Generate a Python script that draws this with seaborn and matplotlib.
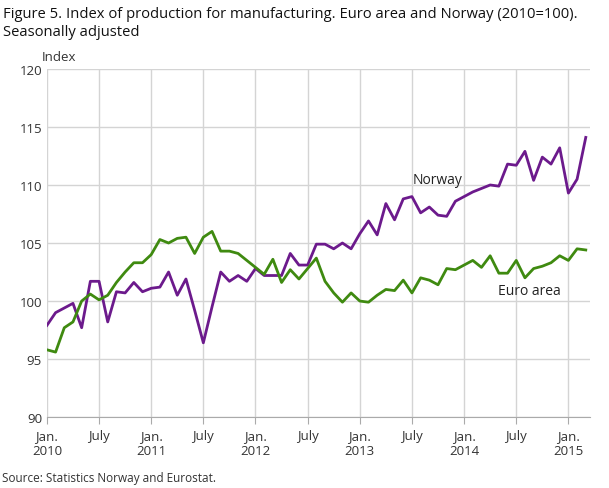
import pandas as pd
import numpy as np
import matplotlib
matplotlib.use("Agg")
import matplotlib.pyplot as plt
import seaborn as sns

# Jan 2010 .. Mar 2015, monthly
norway = [97.9, 99.0, 99.4, 99.8, 97.7, 101.7, 101.7, 98.2, 100.8, 100.7, 101.6, 100.8,
          101.1, 101.2, 102.5, 100.5, 101.9, 99.2, 96.4, 99.5, 102.5, 101.7, 102.2, 101.7,
          102.8, 102.2, 102.2, 102.2, 104.1, 103.1, 103.1, 104.9, 104.9, 104.5, 105.0, 104.5,
          105.8, 106.9, 105.7, 108.4, 107.0, 108.8, 109.0, 107.6, 108.1, 107.4, 107.3, 108.6,
          109.0, 109.4, 109.7, 110.0, 109.9, 111.8, 111.7, 112.9, 110.4, 112.4, 111.8, 113.2,
          109.3, 110.5, 114.1]
euro = [95.8, 95.6, 97.7, 98.2, 100.0, 100.6, 100.1, 100.5, 101.6, 102.5, 103.3, 103.3,
        104.0, 105.3, 105.0, 105.4, 105.5, 104.1, 105.5, 106.0, 104.3, 104.3, 104.1, 103.5,
        102.9, 102.3, 103.6, 101.6, 102.7, 101.9, 102.8, 103.7, 101.7, 100.7, 99.9, 100.7,
        100.0, 99.9, 100.5, 101.0, 100.9, 101.8, 100.7, 102.0, 101.8, 101.4, 102.8, 102.7,
        103.1, 103.5, 102.9, 103.9, 102.4, 102.4, 103.5, 102.0, 102.8, 103.0, 103.3, 103.9,
        103.5, 104.5, 104.4]
tick_labels = ["Jan.\n2010", "July", "Jan.\n2011", "July", "Jan.\n2012", "July",
               "Jan.\n2013", "July", "Jan.\n2014", "July", "Jan.\n2015"]

months = np.arange(len(norway))
df = pd.DataFrame({"month": np.concatenate([months, months]),
                   "value": norway + euro,
                   "series": ["Norway"] * len(norway) + ["Euro area"] * len(euro)})

plt.rcParams["font.family"] = "Open Sans"
fig = plt.figure(figsize=(6.09, 4.89), dpi=100)
ax = fig.add_axes([0.077, 0.145, 0.892, 0.712])
sns.lineplot(data=df, x="month", y="value", hue="series",
             palette={"Norway": "#6c1a8c", "Euro area": "#3f8a10"},
             linewidth=2, legend=False, ax=ax)

ax.set_xlim(0, 62.5)
ax.set_ylim(90, 120)
ax.set_yticks(range(90, 121, 5))
ax.set_xticks(range(0, 61, 6))
ax.set_xticklabels(tick_labels)
ax.grid(True, color="#d4d4d4", linewidth=1)
ax.set_axisbelow(True)
for s in ["top", "right", "left"]:
    ax.spines[s].set_visible(False)
ax.spines["bottom"].set_color("#aaaaaa")
ax.tick_params(axis="y", length=0, labelsize=9.5, colors="#333333")
ax.tick_params(axis="x", length=5, color="#aaaaaa", labelsize=9.5, colors="#333333")
ax.set_xlabel("")
ax.set_ylabel("")

ax.text(45, 110.2, "Norway", fontsize=10, color="#222222", ha="center")
ax.text(55.5, 100.6, "Euro area", fontsize=10, color="#222222", ha="center")

fig.text(0.005, 0.985, "Figure 5. Index of production for manufacturing. Euro area and Norway (2010=100).\nSeasonally adjusted",
         fontsize=10.6, va="top", ha="left", color="#111111", linespacing=1.2)
fig.text(0.068, 0.875, "Index", fontsize=9.5, color="#333333")
fig.text(0.003, 0.015, "Source: Statistics Norway and Eurostat.", fontsize=8.5, color="#333333")

fig.savefig("out.png", dpi=100)
